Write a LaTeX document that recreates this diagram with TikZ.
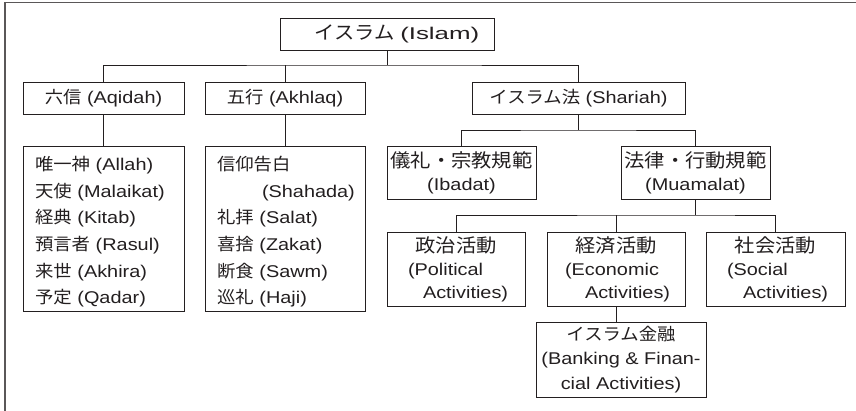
\documentclass[tikz,border=0pt]{standalone}
\usepackage{graphicx}
\usepackage{fontspec}
\setmainfont{Liberation Sans}[FakeStretch=1.17]
\newfontfamily\jp{Noto Sans CJK JP}[FakeStretch=1.08]
\newcommand\J[1]{{\jp #1}}
\newcommand\JB[1]{{\fontsize{18.8}{23}\selectfont\jp #1}}
\definecolor{ink}{HTML}{231F20}
\hyphenpenalty=10000
\exhyphenpenalty=10000
\begin{document}
\begin{tikzpicture}[x=1pt,y=-1pt,
  every node/.style={text=ink},
  box/.style={draw=ink, line width=0.8pt, fill=white, inner ysep=0pt, inner xsep=0pt,
    font=\fontsize{17}{23}\selectfont},
  conn/.style={draw=ink, line width=0.8pt},
  frame/.style={draw=ink!75, line width=1.8pt}]
\useasboundingbox (0,0) rectangle (856,411);
\draw[frame] (5,411) -- (5,2.5) -- (856,2.5);

% level 0
\node[box, minimum width=214pt, minimum height=32pt] (islam) at (387,34)
  {\hspace*{20pt}\JB{イスラム} \scalebox{1.3}[1]{(Islam)}};

% level 1
\node[box, minimum width=161pt, minimum height=32pt] (rokushin) at (103.5,98) {\J{六信} (Aqidah)};
\node[box, minimum width=160pt, minimum height=32pt] (gogyo) at (285,98) {\J{五行} (Akhlaq)};
\node[box, minimum width=213pt, minimum height=32pt] (shariah) at (578.5,98) {\J{イスラム法} (Shariah)};

% lists
\node[box, minimum width=161pt, minimum height=165pt, text width=137pt, inner xsep=12pt,
  align=left, font=\fontsize{17}{26.7}\selectfont] (list1) at (103.5,228.5)
  {\rule{0pt}{21pt}\J{唯一神} (Allah)\\ \J{天使} (Malaikat)\\ \J{経典} (Kitab)\\ \J{預言者} (Rasul)\\ \J{来世} (Akhira)\\ \J{予定} (Qadar)};
\node[box, minimum width=160pt, minimum height=165pt, text width=136pt, inner xsep=12pt,
  align=left, font=\fontsize{17}{26.7}\selectfont] (list2) at (285,228.5)
  {\rule{0pt}{21pt}\J{信仰告白}\\ \mbox{\hspace*{45pt}(Shahada)}\\ \J{礼拝} (Salat)\\ \J{喜捨} (Zakat)\\ \J{断食} (Sawm)\\ \J{巡礼} (Haji)};

% shariah children
\node[box, minimum width=149pt, minimum height=53pt, align=center] (ibadat) at (461.5,172.5)
  {\JB{儀礼・宗教規範}\\(Ibadat)};
\node[box, minimum width=149pt, minimum height=53pt, align=center] (muamalat) at (695.5,172.5)
  {\JB{法律・行動規範}\\(Muamalat)};

% muamalat children
\node[box, minimum width=138pt, minimum height=74pt, text width=96pt, inner xsep=21pt, align=left] (seiji) at (456,269)
  {\makebox[\linewidth][c]{\JB{政治活動}}\\\mbox{(Political}\\\mbox{\hspace*{15pt}Activities)}};
\node[box, minimum width=138pt, minimum height=74pt, text width=102pt, inner xsep=18pt, align=left] (keizai) at (616,269)
  {\makebox[\linewidth][c]{\JB{経済活動}}\\\mbox{(Economic}\\\mbox{\hspace*{20pt}Activities)}};
\node[box, minimum width=139pt, minimum height=74pt, text width=97pt, inner xsep=21pt, align=left] (shakai) at (775.5,269)
  {\makebox[\linewidth][c]{\JB{社会活動}}\\\mbox{(Social}\\\mbox{\hspace*{16pt}Activities)}};

\node[box, minimum width=170pt, minimum height=75pt, align=center,
  font=\fontsize{17}{24.5}\selectfont] (kinyu) at (621,359.5)
  {\J{イスラム金融}\\(Banking \& Finan-\\cial Activities)};

% connectors
\coordinate (j1) at (387,65);
\draw[conn] (islam.south) -- (j1);
\draw[conn] (rokushin.north) |- (j1) -| (shariah.north);
\draw[conn] (gogyo.north) -- (gogyo.north |- j1);
\draw[conn] (rokushin.south) -- (list1.north);
\draw[conn] (gogyo.south) -- (list2.north);

\coordinate (j2) at (578.5,130);
\draw[conn] (shariah.south) -- (j2);
\draw[conn] (ibadat.north) |- (j2) -| (muamalat.north);

\coordinate (j3) at (695.5,215);
\draw[conn] (muamalat.south) -- (j3);
\draw[conn] (seiji.north) |- (j3) -| (shakai.north);
\draw[conn] (keizai.north) -- (keizai.north |- j3);
\draw[conn] (keizai.south) -- (keizai.south |- kinyu.north);
\end{tikzpicture}
\end{document}
